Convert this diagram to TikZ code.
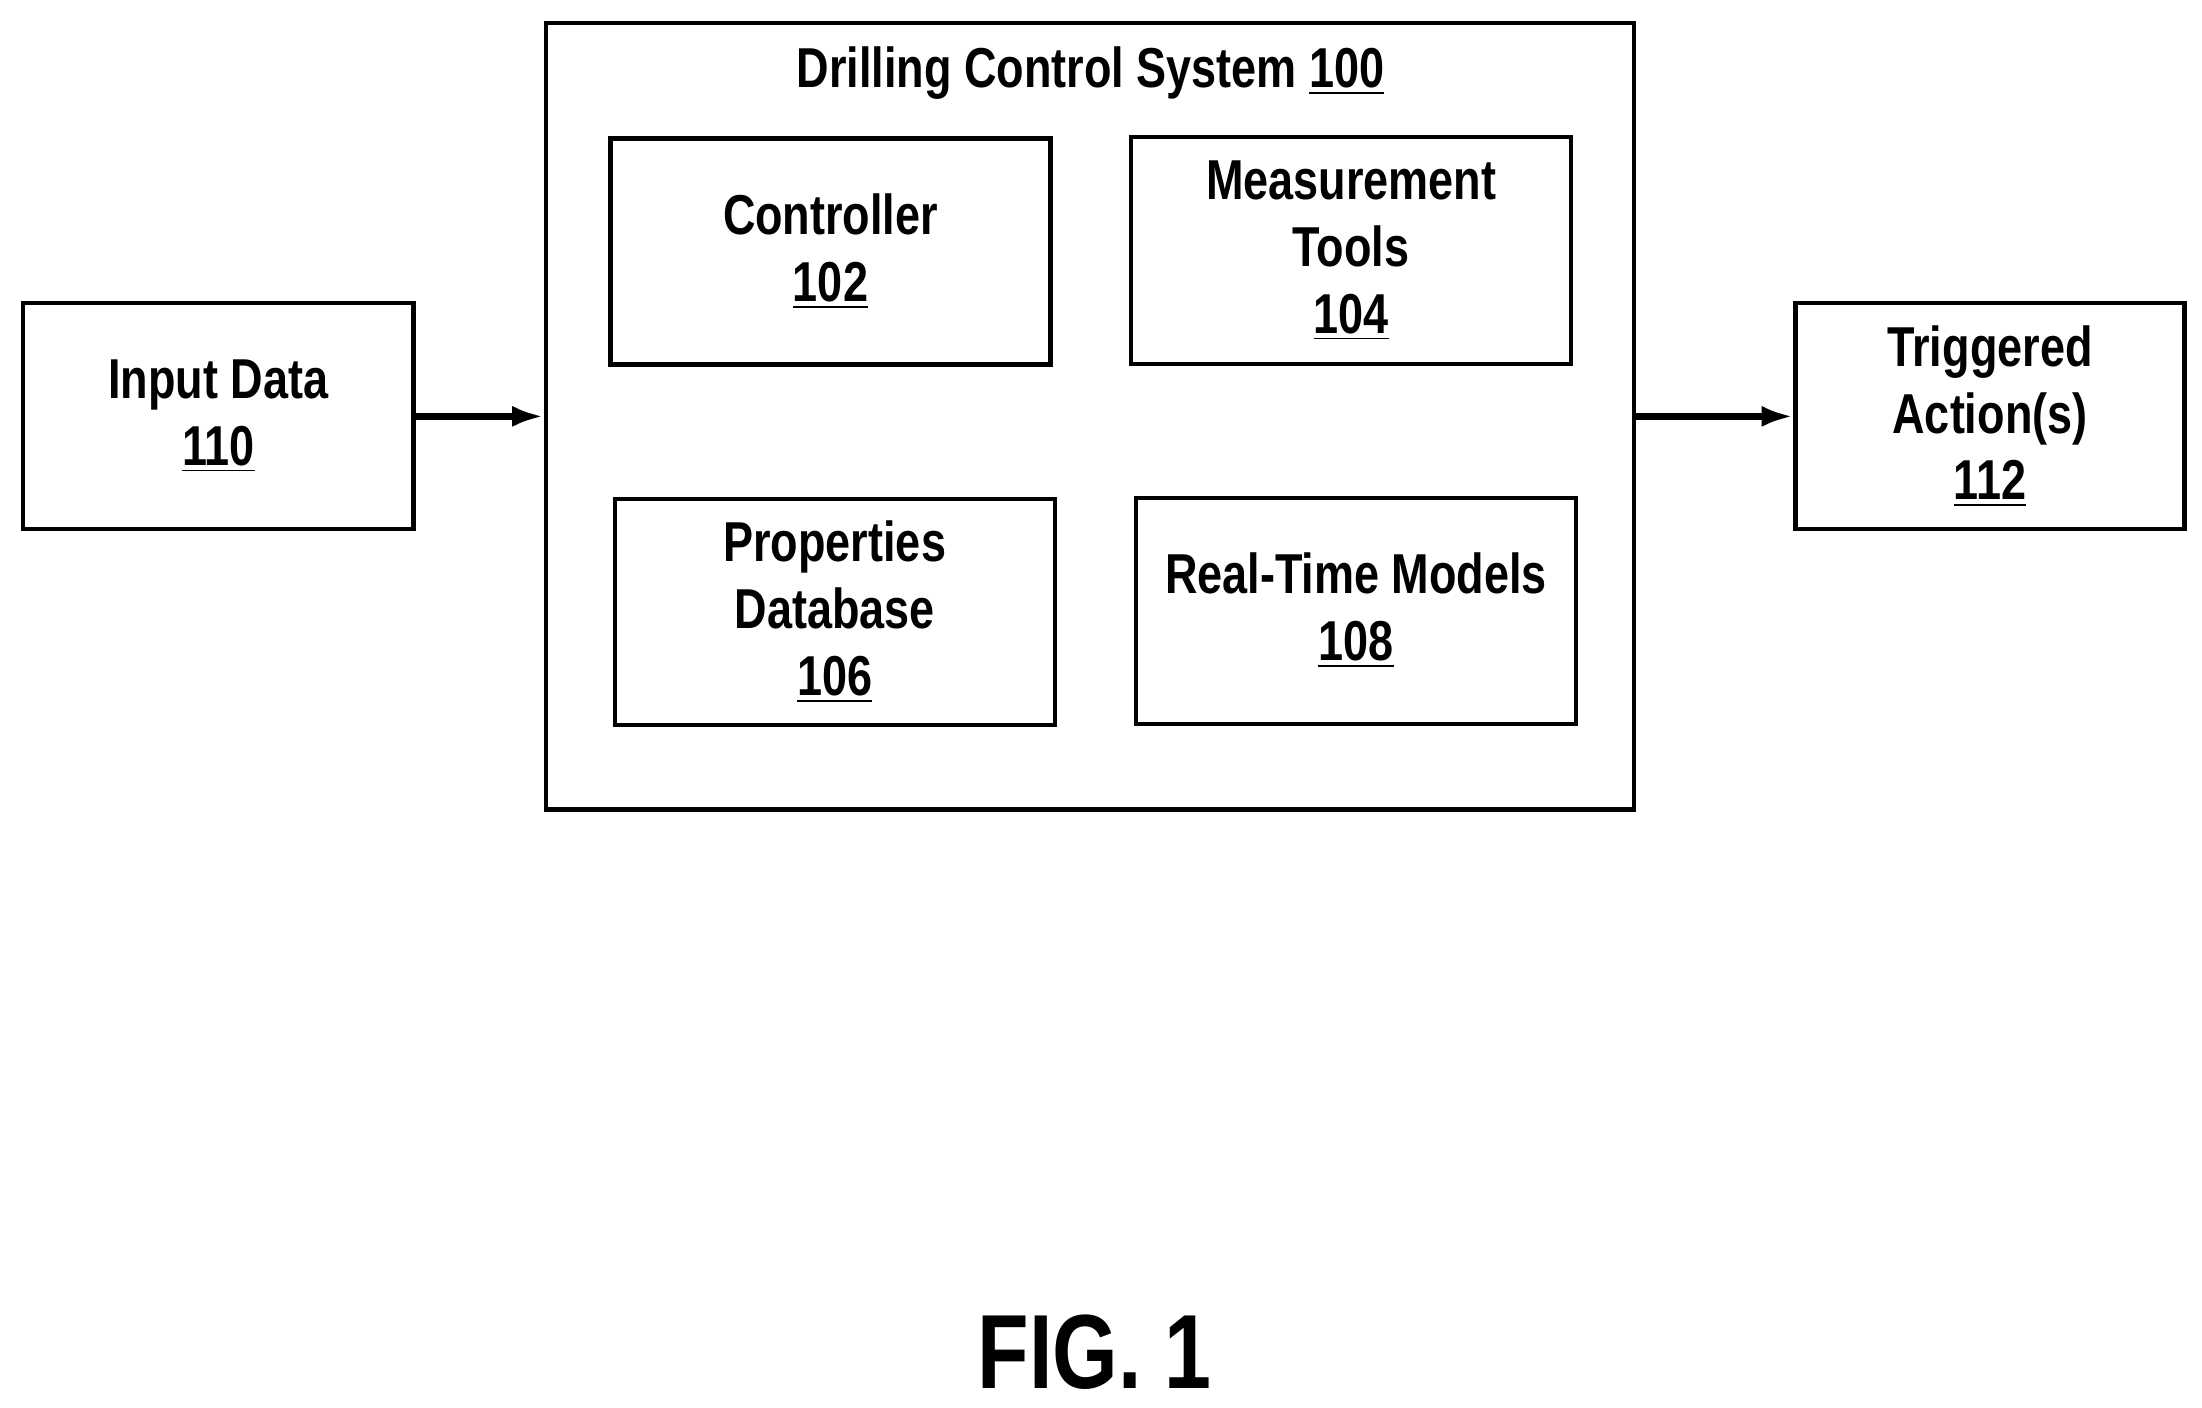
\documentclass[tikz,border=0pt]{standalone}
\usepackage{fontspec}
\setmainfont{Liberation Sans}[FakeStretch=0.8]
\usepackage{tikz}
\usetikzlibrary{positioning,calc,arrows.meta}
\tikzset{
	blk/.style={draw,line width=1.2pt,align=center,font=\fontsize{16}{19}\selectfont\bfseries,
		inner sep=0pt},
	flow/.style={-{Latex[length=9pt,width=6pt]},line width=1.8pt},
}
\newcommand{\refnum}[1]{\underline{#1}}
\begin{document}
\begin{tikzpicture}[x=0.01409cm,y=-0.01409cm,line width=1.2pt]
\useasboundingbox (0,0) rectangle (1563,999);
% outer system
\node[blk,minimum width=10.88cm,minimum height=7.86cm,anchor=north west] (sys) at (386,15) {};
\node[font=\fontsize{16}{19}\selectfont\bfseries] (title) at (774,52) {Drilling Control System \refnum{100}};
% inner blocks
\node[blk,minimum width=4.40cm,minimum height=2.26cm] (ctrl) at (589.5,178.5) {Controller\\\refnum{102}};
\node[blk,minimum width=4.40cm,minimum height=2.27cm] (meas) at (959,178) {Measurement\\Tools\\\refnum{104}};
\node[blk,minimum width=4.40cm,minimum height=2.26cm] (prop) at (592.5,434.5) {Properties\\Database\\\refnum{106}};
\node[blk,minimum width=4.40cm,minimum height=2.26cm] (rtm) at (962.5,433.5) {Real-Time Models\\\refnum{108}};
% side blocks
\node[blk,minimum width=3.90cm,minimum height=2.26cm] (in) at (155,295.5) {Input Data\\\refnum{110}};
\node[blk,minimum width=3.89cm,minimum height=2.26cm] (act) at (1412.5,295.5) {Triggered\\Action(s)\\\refnum{112}};
\draw[flow] (in.east|-sys.west) -- (sys.west);
\draw[flow] (sys.east) -- (act.west|-sys.east);
\node[font=\fontsize{30}{36}\selectfont\bfseries] (fig) at (777,960) {FIG. 1};
\end{tikzpicture}
\end{document}
